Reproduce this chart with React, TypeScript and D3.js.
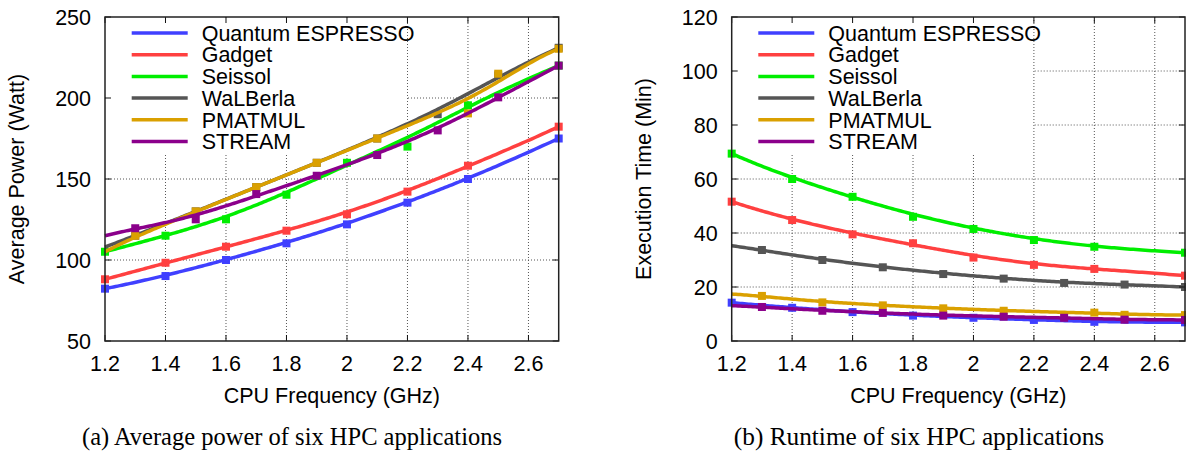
import React from "react";
import * as d3 from "d3";

const FREQ = [1.2, 1.3, 1.4, 1.5, 1.6, 1.7, 1.8, 1.9, 2.0, 2.1, 2.2, 2.3, 2.4, 2.5, 2.7];
const X_TICKS = [1.2, 1.4, 1.6, 1.8, 2.0, 2.2, 2.4, 2.6];
const EVEN_MARKS = [1.2, 1.4, 1.6, 1.8, 2.0, 2.2, 2.4, 2.7];
const ODD_MARKS = [1.3, 1.5, 1.7, 1.9, 2.1, 2.3, 2.5, 2.7];
const GOLD_MARKS = [1.3, 1.5, 1.7, 1.9, 2.1, 2.4, 2.5, 2.7];

const NAMES = ["Quantum ESPRESSO", "Gadget", "Seissol", "WaLBerla", "PMATMUL", "STREAM"];
const COLORS = ["#4040ff", "#ff4040", "#00ee00", "#555555", "#daa000", "#8b008b"];
const MARKS = [EVEN_MARKS, EVEN_MARKS, EVEN_MARKS, ODD_MARKS, GOLD_MARKS, ODD_MARKS];

// Average power (Watt)
const POWER_QE = [82.3, 86, 90.1, 95, 100, 105, 110.3, 116, 122, 128.5, 135.4, 142.5, 150, 158, 175];
const POWER_GADGET = [88.1, 93, 98.3, 103, 108.2, 113, 118.1, 123, 128.2, 135, 142.2, 150, 158.2, 165, 182.3];
const POWER_SEISSOL = [105.1, 110, 115, 120, 125.1, 132, 140.3, 150, 160, 169, 170, 186, 195.5, 204, 220];
const POWER_WALBERLA = [108, 115, 122.5, 130, 137.5, 145, 152.5, 160, 167.5, 175, 184, 190, 203, 214, 231];
const POWER_PMATMUL = [105, 115, 122, 130, 137.5, 145, 152.5, 160, 167.5, 175, 183, 193, 190.5, 215, 230.4];
const POWER_STREAM = [115, 119.6, 123, 125.1, 132, 140.7, 146, 152, 158, 164.8, 172, 180, 190, 200.4, 220];

// Execution time (Min)
const TIME_QE = [14.2, 13.2, 12.3, 11.5, 10.7, 10, 9.4, 9, 8.6, 8.2, 7.8, 7.5, 7.1, 7.0, 6.9];
const TIME_GADGET = [51.6, 48, 44.8, 42, 39.5, 37.5, 36.2, 33.3, 30.9, 29.5, 28.2, 27.3, 26.7, 26, 24.2];
const TIME_SEISSOL = [69.4, 64.5, 60, 56.5, 53.4, 49.5, 46, 43.6, 41.5, 39.3, 37.4, 36, 34.9, 34, 32.7];
const TIME_WALBERLA = [35.3, 33.7, 31.8, 30, 28.6, 27.3, 26, 24.8, 24, 23.1, 22.3, 21.5, 21.2, 20.9, 20];
const TIME_PMATMUL = [17.4, 16.7, 15.4, 14.3, 13.7, 13.2, 12.6, 12.1, 11.6, 11.2, 10.9, 10.6, 10.5, 9.7, 9.6];
const TIME_STREAM = [13.1, 12.6, 11.9, 11.2, 10.8, 10.4, 9.9, 9.4, 9.2, 9.0, 8.8, 8.6, 8.2, 7.9, 7.8];

const POWER_TICKS = [50, 100, 150, 200, 250];
const TIME_TICKS = [0, 20, 40, 60, 80, 100, 120];

const SANS = "'Liberation Sans', Arial, Helvetica, sans-serif";
const SERIF = "'Liberation Serif', 'Times New Roman', serif";
const FS = 21.5;

function bezier(pts: [number, number][], n = 200): [number, number][] {
  const out: [number, number][] = [];
  for (let k = 0; k <= n; k++) {
    const t = k / n;
    const tmp = pts.map((p) => [p[0], p[1]] as [number, number]);
    for (let r = 1; r < tmp.length; r++) {
      for (let i = 0; i < tmp.length - r; i++) {
        tmp[i][0] = (1 - t) * tmp[i][0] + t * tmp[i + 1][0];
        tmp[i][1] = (1 - t) * tmp[i][1] + t * tmp[i + 1][1];
      }
    }
    out.push(tmp[0]);
  }
  return out;
}

type PanelProps = {
  x0: number;
  x1: number;
  yDomain: [number, number];
  yTicks: number[];
  series: number[][];
  yTitle: string;
  yTitleX: number;
  caption: string;
  captionX: number;
  captionSize: number;
  legendLineX: number;
  keyRight: number;
};

function Panel(p: PanelProps) {
  const top = 17;
  const bottom = 341;
  const x = d3.scaleLinear().domain([1.2, 2.7]).range([p.x0, p.x1]);
  const y = d3.scaleLinear().domain(p.yDomain).range([bottom, top]);
  const line = d3.line<[number, number]>().x((d) => d[0]).y((d) => d[1]);
  const ms = 8;
  const tickLen = 6;
  const gridColor = "#555";
  return (
    <g>
      {X_TICKS.filter((t) => t > 1.2).map((t) => (
        <line key={"gx" + t} x1={x(t)} x2={x(t)} y1={top} y2={bottom} stroke={gridColor} strokeWidth={1} strokeDasharray="1,2" />
      ))}
      {p.yTicks.slice(1, -1).map((t) => (
        <line key={"gy" + t} x1={p.x0} x2={p.x1} y1={y(t)} y2={y(t)} stroke={gridColor} strokeWidth={1} strokeDasharray="1,2" />
      ))}
      <rect x={p.x0 + 1} y={top + 1} width={p.keyRight - p.x0 - 1} height={153 - top} fill="#fff" />
      {p.series.map((vals, si) => {
        const pts = FREQ.map((f, i) => [x(f), y(vals[i])] as [number, number]);
        const curve = bezier(pts);
        const marks = MARKS[si];
        return (
          <g key={"s" + si}>
            <path d={line(curve) || ""} fill="none" stroke={COLORS[si]} strokeWidth={3.5} strokeLinejoin="round" />
            {marks.map((f) => {
              const idx = FREQ.indexOf(f);
              return (
                <rect key={"m" + f} x={x(f) - ms / 2} y={y(vals[idx]) - ms / 2} width={ms} height={ms} fill={COLORS[si]} />
              );
            })}
          </g>
        );
      })}
      {X_TICKS.map((t) => (
        <g key={"tx" + t}>
          <line x1={x(t)} x2={x(t)} y1={bottom} y2={bottom - tickLen} stroke="#111" strokeWidth={1} />
          <line x1={x(t)} x2={x(t)} y1={top} y2={top + tickLen} stroke="#111" strokeWidth={1} />
          <text x={x(t)} y={370.5} textAnchor="middle" fontFamily={SANS} fontSize={FS} fill="#000">
            {d3.format("~g")(t)}
          </text>
        </g>
      ))}
      {p.yTicks.map((t) => (
        <g key={"ty" + t}>
          <line x1={p.x0} x2={p.x0 + tickLen} y1={y(t)} y2={y(t)} stroke="#111" strokeWidth={1} />
          <line x1={p.x1} x2={p.x1 - tickLen} y1={y(t)} y2={y(t)} stroke="#111" strokeWidth={1} />
          <text x={p.x0 - 14} y={y(t)} dy="0.36em" textAnchor="end" fontFamily={SANS} fontSize={FS} fill="#000">
            {t}
          </text>
        </g>
      ))}
      <rect x={p.x0} y={top} width={p.x1 - p.x0} height={bottom - top} fill="none" stroke="#222" strokeWidth={1.5} />
      {NAMES.map((n, i) => {
        const ly = 33 + i * 21.7;
        return (
          <g key={"l" + i}>
            <line x1={p.legendLineX} x2={p.legendLineX + 56} y1={ly} y2={ly} stroke={COLORS[i]} strokeWidth={3.5} />
            <text x={p.legendLineX + 70} y={ly} dy="0.36em" fontFamily={SANS} fontSize={FS} fill="#000">
              {n}
            </text>
          </g>
        );
      })}
      <text x={(p.x0 + p.x1) / 2} y={403} textAnchor="middle" fontFamily={SANS} fontSize={FS} fill="#000">
        CPU Frequency (GHz)
      </text>
      <text
        transform={`translate(${p.yTitleX},${(top + bottom) / 2}) rotate(-90)`}
        textAnchor="middle"
        dy="0.36em"
        fontFamily={SANS}
        fontSize={FS}
        fill="#000"
      >
        {p.yTitle}
      </text>
      <text x={p.captionX} y={445} textAnchor="middle" fontFamily={SERIF} fontSize={p.captionSize} fill="#000">
        {p.caption}
      </text>
    </g>
  );
}

export default function App() {
  return (
    <svg
      width={1186}
      height={455}
      style={{ position: "absolute", left: 0, top: 0, background: "#fff" }}
      xmlns="http://www.w3.org/2000/svg"
    >
      <rect x={0} y={0} width={1186} height={455} fill="#fff" />
      <Panel
        x0={105}
        x1={558.7}
        yDomain={[50, 250]}
        yTicks={POWER_TICKS}
        series={[POWER_QE, POWER_GADGET, POWER_SEISSOL, POWER_WALBERLA, POWER_PMATMUL, POWER_STREAM]}
        yTitle="Average Power (Watt)"
        yTitleX={16.5}
        caption="(a) Average power of six HPC applications"
        captionX={292}
        captionSize={24.5}
        legendLineX={131.7}
        keyRight={407}
      />
      <Panel
        x0={731.7}
        x1={1185}
        yDomain={[0, 120]}
        yTicks={TIME_TICKS}
        series={[TIME_QE, TIME_GADGET, TIME_SEISSOL, TIME_WALBERLA, TIME_PMATMUL, TIME_STREAM]}
        yTitle="Execution Time (Min)"
        yTitleX={643}
        caption="(b) Runtime of six HPC applications"
        captionX={919}
        captionSize={25.3}
        legendLineX={758.3}
        keyRight={1033}
      />
    </svg>
  );
}
